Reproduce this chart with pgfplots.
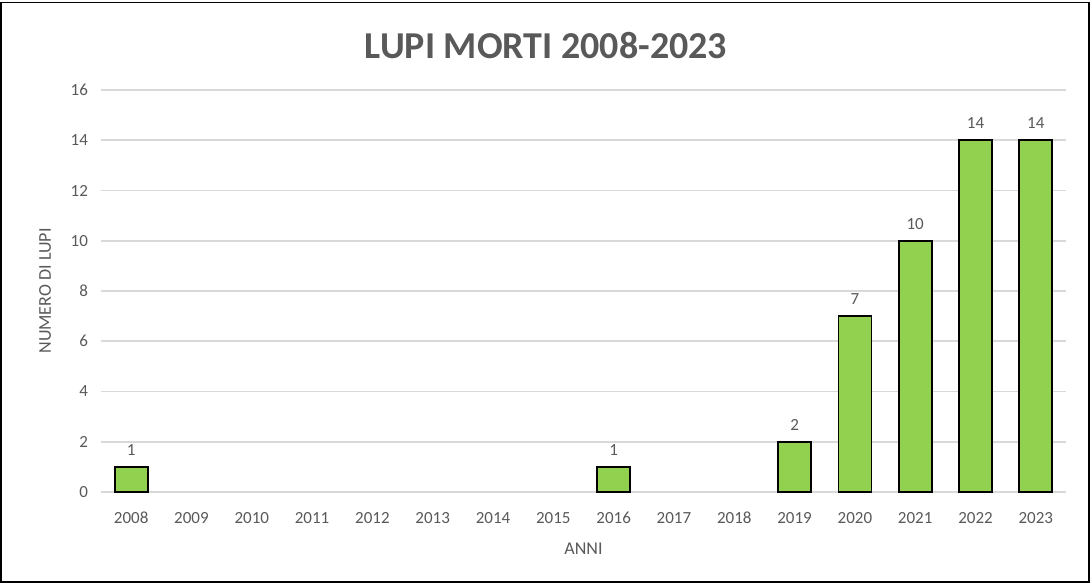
\documentclass[border=0pt]{standalone}
\usepackage{pgfplots}
\pgfplotsset{compat=1.18}
\usepackage{fontspec}
\setmainfont{Carlito}
\definecolor{txtgray}{HTML}{595959}
\definecolor{gridgray}{HTML}{D9D9D9}
\definecolor{bargreen}{HTML}{92D050}
\begin{document}
\begin{tikzpicture}
\useasboundingbox (0,0) rectangle (546pt,291.5pt);
\draw[black, line width=0.8pt] (0.6pt,0.6pt) rectangle (544.6pt,290.2pt);
\node[font=\bfseries\fontsize{19}{22}\selectfont, text=txtgray] at (273pt,268.5pt) {LUPI MORTI 2008-2023};
\begin{axis}[
    at={(50.5pt,45.5pt)}, anchor=south west,
    scale only axis,
    width=482.5pt, height=201pt,
    xmin=-0.5, xmax=15.5,
    ymin=0, ymax=16,
    xtick={0,...,15},
    xticklabels={2008,2009,2010,2011,2012,2013,2014,2015,2016,2017,2018,2019,2020,2021,2022,2023},
    ytick={0,2,...,16},
    major tick length=0pt,
    axis line style={draw=none},
    ymajorgrids,
    grid style={gridgray, line width=0.8pt},
    ticklabel style={font=\fontsize{8.5}{10}\selectfont, text=txtgray},
    /pgf/number format/assume math mode=true,
    xticklabel style={yshift=-6.5pt},
    yticklabel style={xshift=-3pt},
    xlabel={ANNI},
    ylabel={NUMERO DI LUPI},
    label style={font=\fontsize{9}{11}\selectfont, text=txtgray},
    xlabel style={at={(axis description cs:0.5,0)}, anchor=north, yshift=-22pt},
    ylabel style={at={(axis description cs:0,0.5)}, anchor=south, yshift=21.5pt},
    ybar, bar width=16.5pt,
    nodes near coords,
    every node near coord/.append style={font=\fontsize{8.5}{10}\selectfont, text=txtgray, yshift=2pt},
    clip=false,
]
\addplot[fill=bargreen, draw=black, line width=0.9pt] coordinates {
(0,1) (8,1) (11,2) (12,7) (13,10) (14,14) (15,14)
};
\end{axis}
\end{tikzpicture}
\end{document}
